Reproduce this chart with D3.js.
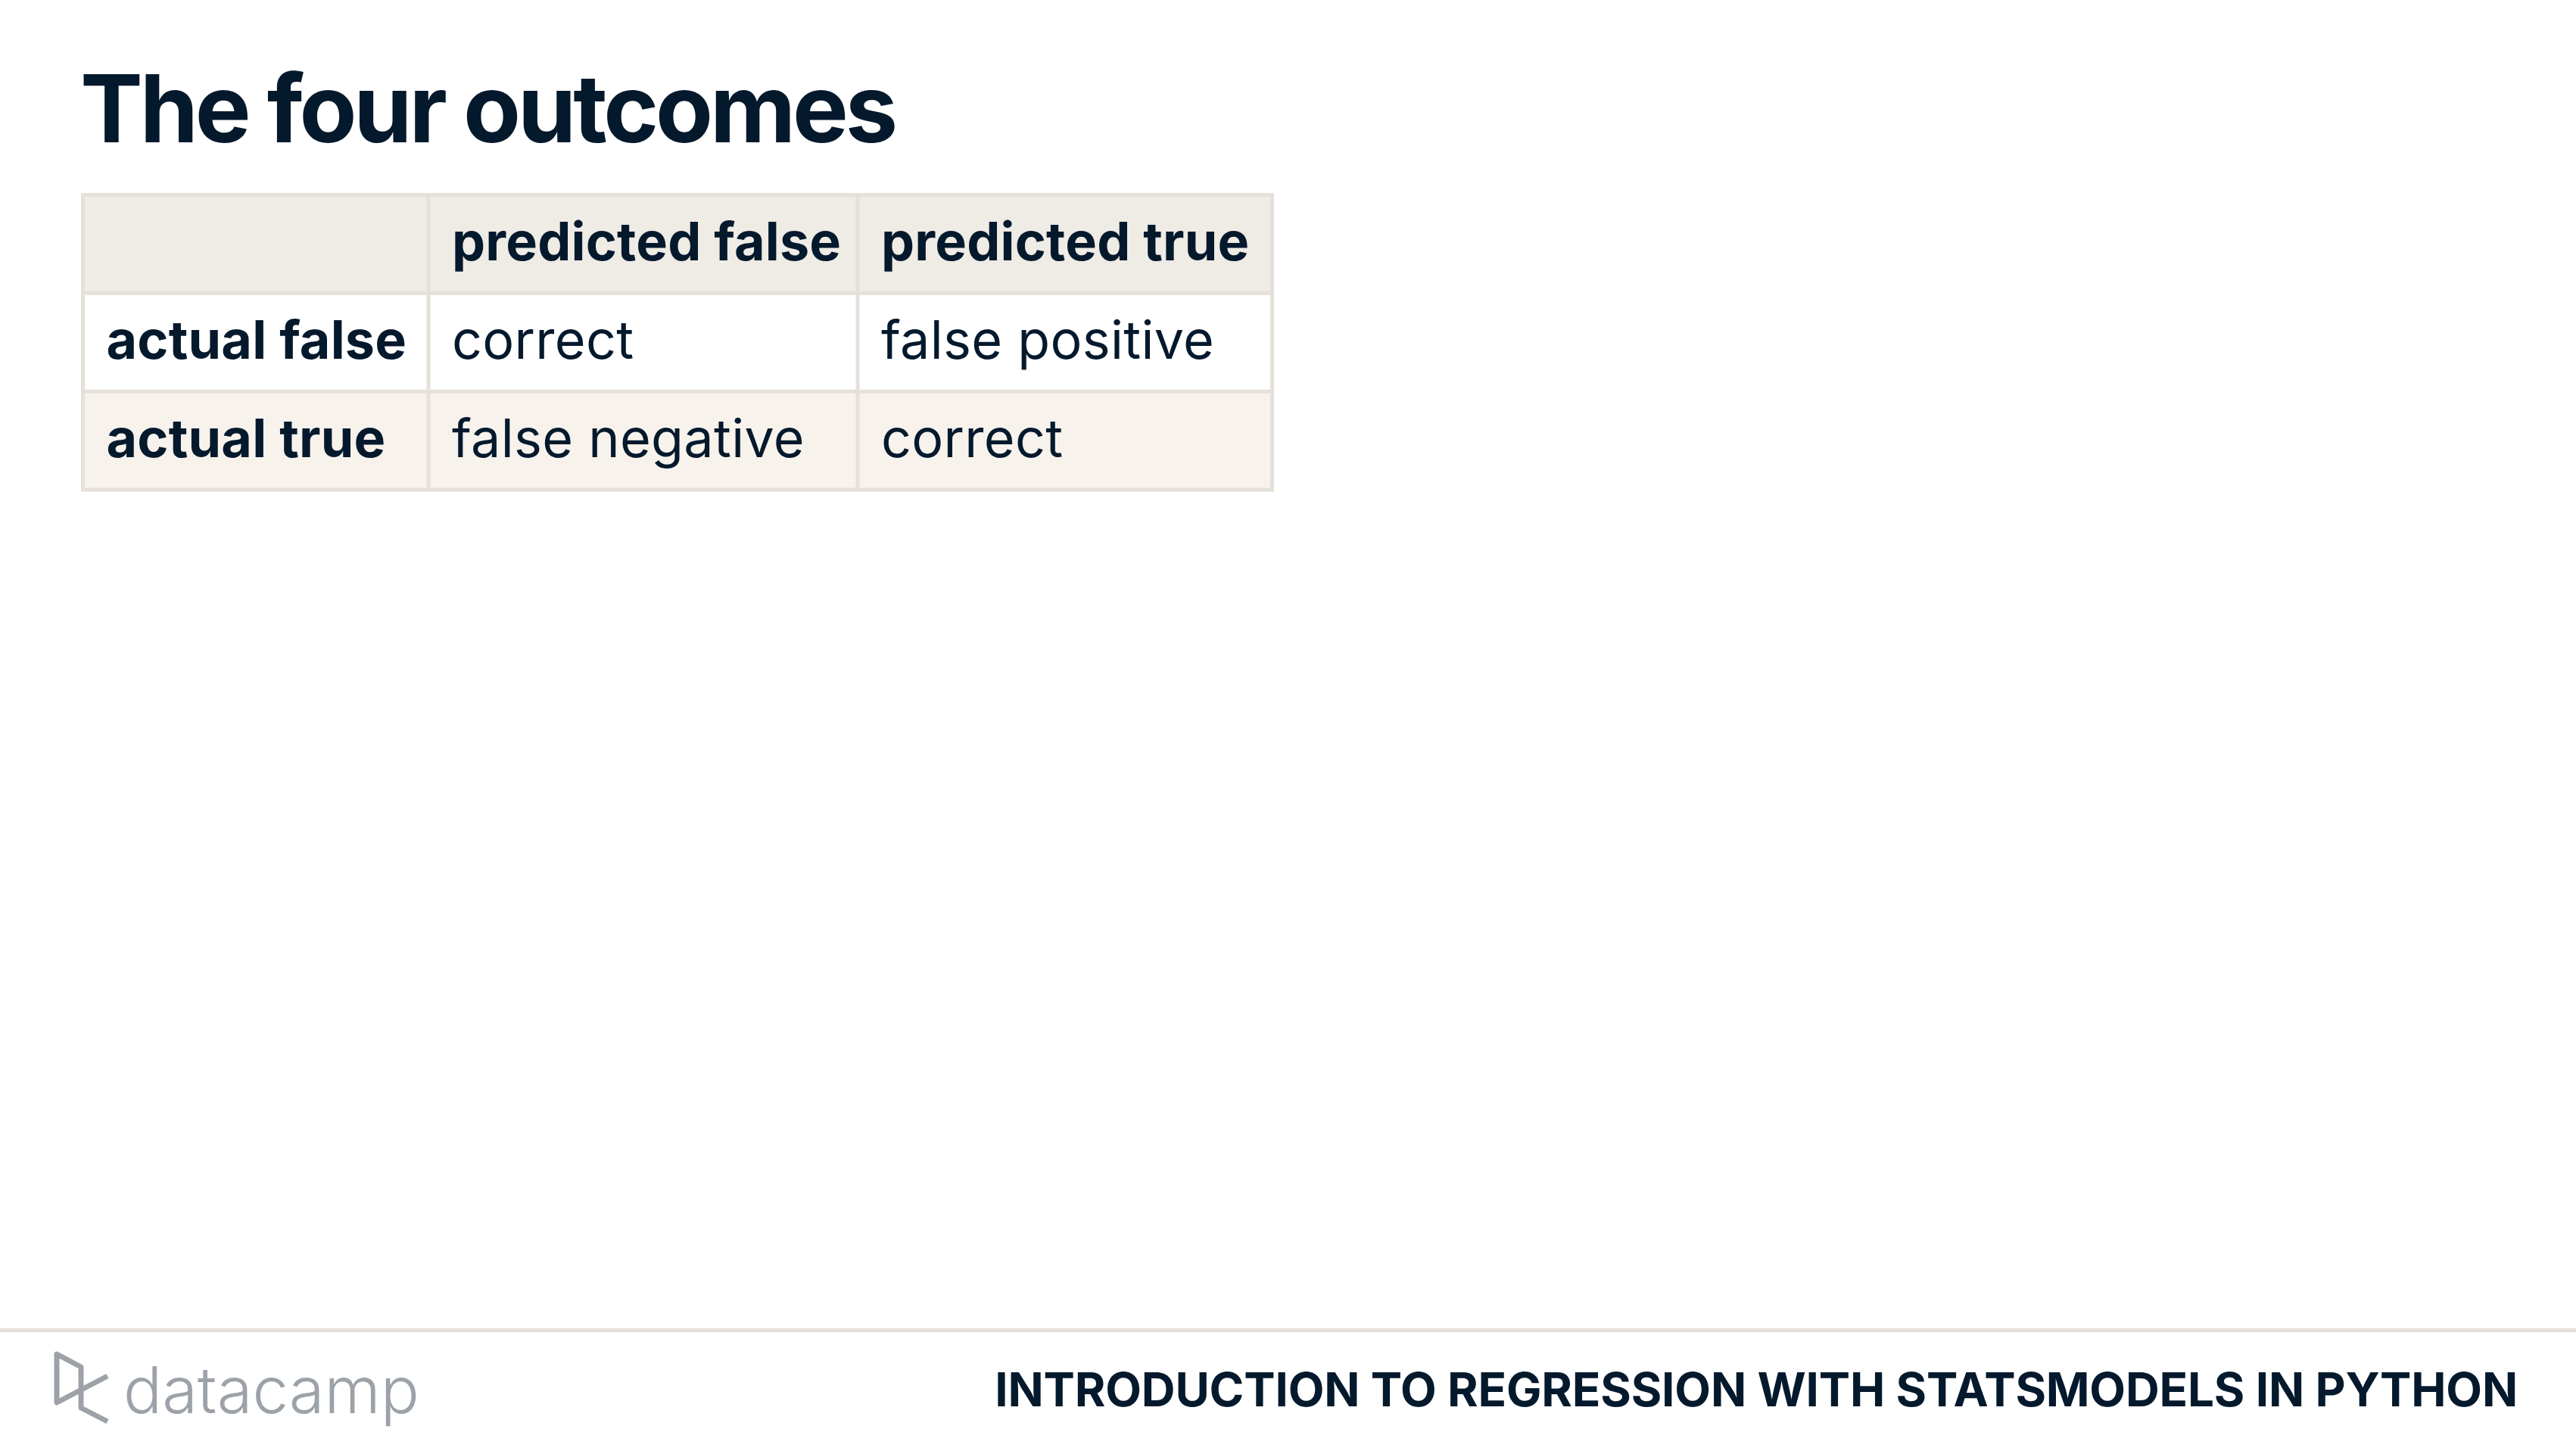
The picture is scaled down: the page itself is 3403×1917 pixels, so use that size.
<!DOCTYPE html>
<html>
<head>
<meta charset="utf-8">
<script src="https://cdn.jsdelivr.net/npm/d3@7"></script>
<style>
  html, body { margin: 0; padding: 0; background: #ffffff; }
  svg { display: block; }
</style>
</head>
<body>
<script>
// ---- data ----
const title = "The four outcomes";
const columnHeaders = ["", "predicted false", "predicted true"];
const rowHeaders = ["actual false", "actual true"];
const cellValues = [
  ["correct", "false positive"],
  ["false negative", "correct"]
];
const footerText = "INTRODUCTION TO REGRESSION WITH STATSMODELS IN PYTHON";
const brandText = "datacamp";

// ---- layout ----
const W = 3403, H = 1917;
const ink = "#05192D";
const borderColor = "#E5E1DA";
const rowFills = ["#EFEBE5", "#FFFFFF", "#F7F3EC"];
const font = "Inter, 'Noto Sans', 'DejaVu Sans', sans-serif";

const svg = d3.select("body").append("svg")
  .attr("width", W).attr("height", H)
  .attr("viewBox", `0 0 ${W} ${H}`);

svg.append("rect").attr("width", W).attr("height", H).attr("fill", "#fff");

// title
svg.append("text")
  .attr("x", 106).attr("y", 188)
  .attr("font-family", font).attr("font-weight", 700)
  .attr("font-size", 124).attr("letter-spacing", -4.1)
  .attr("fill", ink)
  .text(title);

// table scales
const rowKeys = ["header", ...rowHeaders];
const y = d3.scaleBand().domain(rowKeys).range([257.5, 647]).paddingInner(0).paddingOuter(0);
const colKeys = columnHeaders.map((d, i) => "c" + i);
const colEdges = [109.5, 566, 1133, 1680.5];
const x = d3.scaleOrdinal().domain(colKeys).range(colEdges.slice(0, 3));
const colW = k => colEdges[colKeys.indexOf(k) + 1] - x(k);

// build cell records
const cells = [];
rowKeys.forEach((rk, ri) => {
  colKeys.forEach((ck, ci) => {
    let txt, bold;
    if (ri === 0) { txt = columnHeaders[ci]; bold = true; }
    else if (ci === 0) { txt = rowHeaders[ri - 1]; bold = true; }
    else { txt = cellValues[ri - 1][ci - 1]; bold = false; }
    cells.push({ rk, ck, ri, ci, txt, bold });
  });
});

const table = svg.append("g");

table.selectAll("rect.cell").data(cells).join("rect")
  .attr("class", "cell")
  .attr("x", d => x(d.ck)).attr("y", d => y(d.rk))
  .attr("width", d => colW(d.ck)).attr("height", y.bandwidth())
  .attr("fill", d => rowFills[d.ri]);

// grid lines
const hLines = [...rowKeys.map(k => y(k)), y.range()[1]];
table.selectAll("line.h").data(hLines).join("line")
  .attr("class", "h")
  .attr("x1", colEdges[0] - 2.5).attr("x2", colEdges[3] + 2.5)
  .attr("y1", d => d).attr("y2", d => d)
  .attr("stroke", borderColor).attr("stroke-width", 5);
table.selectAll("line.v").data(colEdges).join("line")
  .attr("class", "v")
  .attr("y1", y.range()[0] - 2.5).attr("y2", y.range()[1] + 2.5)
  .attr("x1", d => d).attr("x2", d => d)
  .attr("stroke", borderColor).attr("stroke-width", 5);

table.selectAll("text.cell").data(cells.filter(d => d.txt)).join("text")
  .attr("class", "cell")
  .attr("x", d => x(d.ck) + 31)
  .attr("y", d => y(d.rk) + 86.5)
  .attr("font-family", font)
  .attr("font-weight", d => d.bold ? 700 : 400)
  .attr("font-size", 70)
  .attr("letter-spacing", d => d.bold ? 0.2 : 0.3)
  .attr("fill", ink)
  .text(d => d.txt);

// footer
svg.append("rect")
  .attr("x", 0).attr("y", 1755).attr("width", W).attr("height", 5)
  .attr("fill", borderColor);

svg.append("text")
  .attr("x", 3326).attr("y", 1858)
  .attr("text-anchor", "end")
  .attr("font-family", font).attr("font-weight", 700)
  .attr("font-size", 62).attr("letter-spacing", -0.2)
  .attr("fill", ink)
  .text(footerText);

// brand
const logoGrey = "#9CA2A8";
svg.append("path")
  .attr("d", "M142,1818 L75,1853 L75,1789 L107,1806 L107,1860 L142,1878")
  .attr("fill", "none").attr("stroke", logoGrey)
  .attr("stroke-width", 7).attr("stroke-linejoin", "round");

svg.append("text")
  .attr("x", 163).attr("y", 1867)
  .attr("font-family", font).attr("font-weight", 300)
  .attr("font-size", 85)
  .attr("fill", logoGrey)
  .text(brandText);
</script>
</body>
</html>
